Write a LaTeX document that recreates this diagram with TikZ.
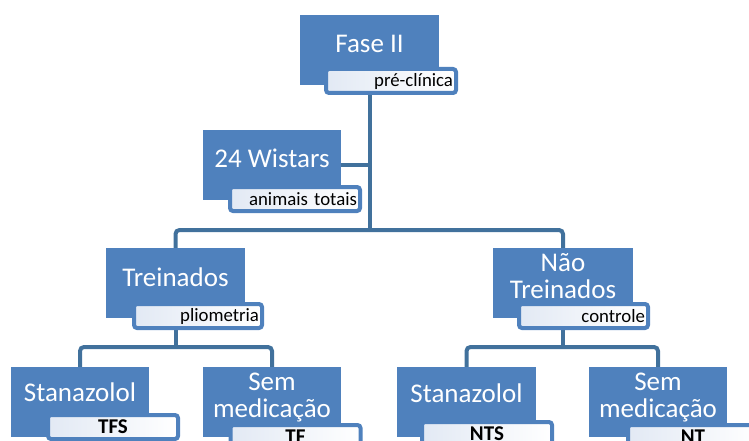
\documentclass[tikz,border=0pt]{standalone}
\usepackage{fontspec}
\setmainfont{Carlito}
\usetikzlibrary{backgrounds, calc}
\definecolor{boxblue}{HTML}{4F81BD}
\definecolor{linkblue}{HTML}{41719C}
\definecolor{tagshade}{HTML}{E2E9F4}

\begin{document}
\begin{tikzpicture}[x=1pt, y=-1pt,
  mainbox/.style={fill=boxblue, minimum width=139pt, minimum height=70pt, inner sep=0pt},
  maintext/.style={text=white, font=\fontsize{27}{27}\selectfont, align=center, inner sep=0pt},
  tagbox/.style={draw=boxblue, line width=4pt, rounded corners=3pt, left color=tagshade, middle color=white, right color=white, minimum width=130pt, minimum height=24pt, inner sep=2pt},
  tagnote/.style={tagbox, text width=124pt, align=right, font=\fontsize{18.8}{19}\selectfont},
  tagcode/.style={tagbox, text width=124pt, align=center, font=\fontsize{21}{21}\selectfont\bfseries},
  link/.style={draw=linkblue, line width=4pt, rounded corners=4pt}]
  \clip (0,0) rectangle (749,441);

  % top level
  \node[mainbox] (fase) at (369.5,50) {};
  \node[maintext] (faseT) at (369.5,43.5) {Fase II};
  \node[tagnote] (faseL) at (391,81) {pré-clínica};

  \node[mainbox, minimum width=138pt] (wist) at (272,165) {};
  \node[maintext] (wistT) at (272,158.5) {24 Wistars};
  \node[tagnote] (wistL) at (295,199) {animais totais};

  % groups
  \node[mainbox] (trein) at (175.5,283) {};
  \node[maintext] (treinT) at (175.5,277) {Treinados};
  \node[tagnote, minimum width=128pt, text width=122pt] (treinL) at (198,316) {pliometria};

  \node[mainbox, minimum width=140pt] (nao) at (563,283) {};
  \node[maintext] (naoT) at (563,276) {Não\\Treinados};
  \node[tagnote, minimum width=129pt, text width=123pt] (naoL) at (583.5,316) {controle};

  % subgroups
  \node[mainbox, minimum width=138pt] (tfs) at (80,402) {};
  \node[maintext] (tfsT) at (80,392) {Stanazolol};
  \node[tagcode] (tfsL) at (113,427) {TFS};

  \node[mainbox, minimum width=138pt] (tf) at (272,402) {};
  \node[maintext] (tfT) at (272,398) {Sem\\medicação};
  \node[tagcode] (tfL) at (295.5,437) {TF};

  \node[mainbox] (nts) at (466.5,402) {};
  \node[maintext] (ntsT) at (466.5,393) {Stanazolol};
  \node[tagcode] (ntsL) at (487,434) {NTS};

  \node[mainbox, minimum width=138pt] (nt) at (658,402) {};
  \node[maintext] (ntT) at (658,398) {Sem\\medicação};
  \node[tagcode] (ntL) at (693,437) {NT};

  % connectors
  \begin{scope}[on background layer]
    \coordinate (hub) at (369,230);
    \coordinate (subL) at (175.5,347);
    \coordinate (subR) at (563,347);
    \draw[link] (fase.center) -- (fase |- hub);
    \draw[link] (wist.center) -- (wist -| fase);
    \draw[link] (trein.center) -- (trein |- hub) -- (nao |- hub) -- (nao.center);
    \draw[link] (trein.center) -- (subL);
    \draw[link] (tfs.center) -- (tfs |- subL) -- (tf |- subL) -- (tf.center);
    \draw[link] (nao.center) -- (subR);
    \draw[link] (nts.center) -- (nts |- subR) -- (nt |- subR) -- (nt.center);
  \end{scope}
\end{tikzpicture}
\end{document}
